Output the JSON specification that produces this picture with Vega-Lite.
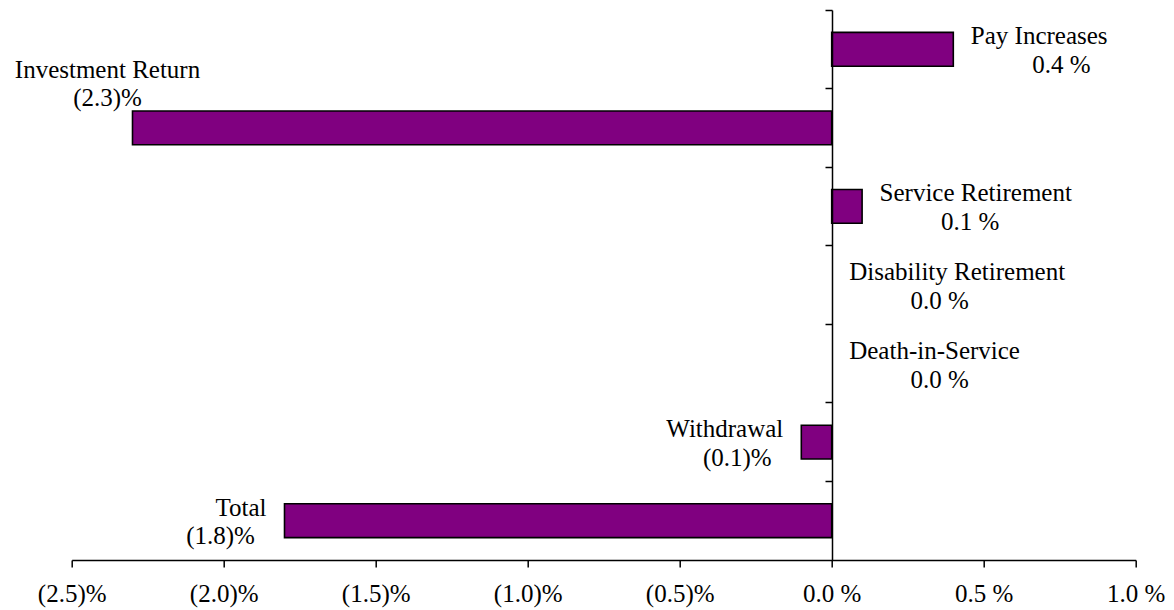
{
  "$schema": "https://vega.github.io/schema/vega-lite/v6.json",
  "width": 1064,
  "height": 550,
  "autosize": {"type": "none"},
  "padding": {"left": 71.7, "top": 10, "right": 38.3, "bottom": 50},
  "background": "white",
  "config": {
    "view": {"stroke": null},
    "font": "Liberation Serif",
    "text": {"font": "Liberation Serif", "fontSize": 25, "color": "black", "baseline": "alphabetic"}
  },
  "data": {
    "values": [
      {"category": "Pay Increases", "value": 0.4, "valueLabel": "0.4 %"},
      {"category": "Investment Return", "value": -2.3, "valueLabel": "(2.3)%"},
      {"category": "Service Retirement", "value": 0.1, "valueLabel": "0.1 %"},
      {"category": "Disability Retirement", "value": 0.0, "valueLabel": "0.0 %"},
      {"category": "Death-in-Service", "value": 0.0, "valueLabel": "0.0 %"},
      {"category": "Withdrawal", "value": -0.1, "valueLabel": "(0.1)%"},
      {"category": "Total", "value": -1.8, "valueLabel": "(1.8)%"}
    ]
  },
  "encoding": {
    "y": {
      "field": "category",
      "type": "nominal",
      "sort": null,
      "scale": {"paddingInner": 0.57, "paddingOuter": 0.285},
      "axis": {
        "orient": "left",
        "offset": -760.3,
        "labels": false,
        "title": null,
        "domain": true,
        "domainColor": "black",
        "domainWidth": 1.5,
        "ticks": true,
        "tickColor": "black",
        "tickWidth": 1.5,
        "tickSize": 7,
        "bandPosition": -0.6627,
        "grid": false,
        "zindex": 1
      }
    },
    "x": {
      "field": "value",
      "type": "quantitative",
      "scale": {"domain": [-2.5, 1.0], "nice": false},
      "axis": {
        "values": [-2.5, -2.0, -1.5, -1.0, -0.5, 0.0, 0.5, 1.0],
        "labelExpr": "datum.value < 0 ? '(' + format(-datum.value, '.1f') + ')%' : format(datum.value, '.1f') + ' %'",
        "title": null,
        "grid": false,
        "domainColor": "black",
        "domainWidth": 1.5,
        "tickColor": "black",
        "tickWidth": 1.5,
        "tickSize": 7,
        "labelFont": "Liberation Serif",
        "labelFontSize": 25,
        "labelColor": "black",
        "labelPadding": 14,
        "labelFlush": false,
        "labelOverlap": false,
        "labelBound": false,
        "zindex": 1
      }
    }
  },
  "layer": [
    {
      "mark": {"type": "bar", "color": "#800080", "stroke": "black", "strokeWidth": 1.6},
      "encoding": {
        "strokeOpacity": {"condition": {"test": "datum.value == 0", "value": 0}, "value": 1}
      }
    },
    {
      "transform": [{"filter": "datum.value >= 0"}],
      "mark": {"type": "text", "align": "left", "dx": 17.5, "dy": -5},
      "encoding": {"text": {"field": "category"}}
    },
    {
      "transform": [{"filter": "datum.value >= 0"}],
      "mark": {"type": "text", "align": "center", "dx": 108, "dy": 24},
      "encoding": {"text": {"field": "valueLabel"}}
    },
    {
      "transform": [{"filter": "datum.value < 0 && datum.category != 'Investment Return'"}],
      "mark": {"type": "text", "align": "right", "dx": -18, "dy": -5},
      "encoding": {"text": {"field": "category"}}
    },
    {
      "transform": [{"filter": "datum.value < 0 && datum.category != 'Investment Return'"}],
      "mark": {"type": "text", "align": "center", "dx": -64, "dy": 23.5},
      "encoding": {"text": {"field": "valueLabel"}}
    },
    {
      "transform": [{"filter": "datum.category == 'Investment Return'"}],
      "mark": {"type": "text", "align": "center", "dx": -25, "dy": -50},
      "encoding": {"text": {"field": "category"}}
    },
    {
      "transform": [{"filter": "datum.category == 'Investment Return'"}],
      "mark": {"type": "text", "align": "center", "dx": -25, "dy": -22},
      "encoding": {"text": {"field": "valueLabel"}}
    }
  ]
}
